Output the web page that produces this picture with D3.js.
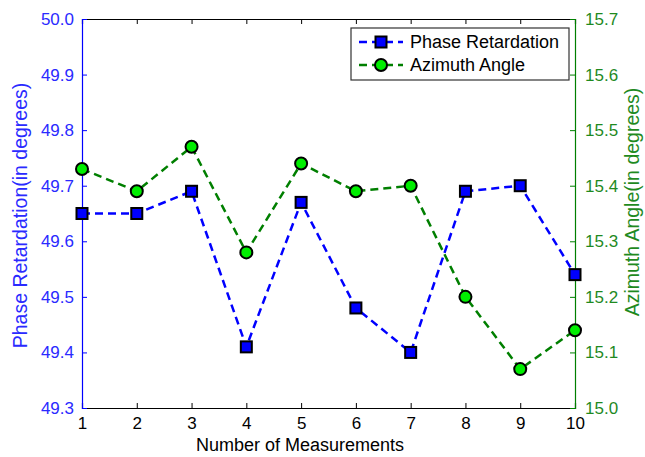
<!DOCTYPE html>
<html>
<head>
<meta charset="utf-8">
<script src="https://cdn.jsdelivr.net/npm/d3@7"></script>
<style>
  body { margin: 0; background: #fff; }
  text { font-family: "Liberation Sans", Arial, sans-serif; }
</style>
</head>
<body>
<div id="chart"></div>
<script>
const measurements = [1, 2, 3, 4, 5, 6, 7, 8, 9, 10]
const phaseRetardation = [49.65, 49.65, 49.69, 49.41, 49.67, 49.48, 49.40, 49.69, 49.70, 49.54]
const azimuthAngle = [15.43, 15.39, 15.47, 15.28, 15.44, 15.39, 15.40, 15.20, 15.07, 15.14]
const leftTicks = [49.3, 49.4, 49.5, 49.6, 49.7, 49.8, 49.9, 50.0]
const rightTicks = [15.0, 15.1, 15.2, 15.3, 15.4, 15.5, 15.6, 15.7]

const width = 645, height = 457
const margin = { top: 19, right: 70, bottom: 49, left: 82 }
const innerW = width - margin.left - margin.right
const innerH = height - margin.top - margin.bottom

const blue = '#0000ff', green = '#007f00'
const blueText = '#2a2aff', greenText = '#1f8a1f'

const svg = d3.select('#chart')
  .append('svg')
  .attr('width', width)
  .attr('height', height)

const g = svg.append('g')
  .attr('transform', 'translate(' + margin.left + ',' + margin.top + ')')

const x = d3.scaleLinear().domain([1, 10]).range([0, innerW])
const yLeft = d3.scaleLinear().domain([49.3, 50.0]).range([innerH, 0])
const yRight = d3.scaleLinear().domain([15.0, 15.7]).range([innerH, 0])

// top axis (box edge), no labels
g.append('g')
  .call(d3.axisTop(x).tickValues(measurements).tickSize(-5).tickFormat(''))
  .call(a => a.selectAll('path, line').attr('stroke', '#000'))

// bottom axis
g.append('g')
  .attr('transform', 'translate(0,' + innerH + ')')
  .call(d3.axisBottom(x).tickValues(measurements).tickSize(-5).tickPadding(9).tickFormat(d3.format('d')))
  .call(a => a.selectAll('path, line').attr('stroke', '#000'))
  .call(a => a.selectAll('text').attr('fill', '#000').style('font-size', '17px'))

// left axis
g.append('g')
  .call(d3.axisLeft(yLeft).tickValues(leftTicks).tickSize(-5).tickPadding(8).tickFormat(d3.format('.1f')))
  .call(a => a.selectAll('path, line').attr('stroke', blue))
  .call(a => a.selectAll('text').attr('fill', blueText).style('font-size', '17px'))

// right axis
g.append('g')
  .attr('transform', 'translate(' + innerW + ',0)')
  .call(d3.axisRight(yRight).tickValues(rightTicks).tickSize(-5).tickPadding(10).tickFormat(d3.format('.1f')))
  .call(a => a.selectAll('path, line').attr('stroke', green))
  .call(a => a.selectAll('text').attr('fill', greenText).style('font-size', '17px'))

g.selectAll('.domain').attr('stroke-width', 1.2)

// axis titles
svg.append('text')
  .attr('x', 300)
  .attr('y', 451)
  .attr('text-anchor', 'middle')
  .style('font-size', '18px')
  .attr('fill', '#000')
  .text('Number of Measurements')

svg.append('text')
  .attr('transform', 'translate(27,' + (margin.top + innerH / 2 + 2) + ') rotate(-90)')
  .attr('text-anchor', 'middle')
  .style('font-size', '19.5px')
  .attr('fill', blueText)
  .text('Phase Retardation(in degrees)')

svg.append('text')
  .attr('transform', 'translate(639,202) rotate(-90)')
  .attr('text-anchor', 'middle')
  .style('font-size', '19.5px')
  .attr('fill', greenText)
  .text('Azimuth Angle(in degrees)')

// lines
const phaseLine = d3.line()
  .x((d, i) => x(measurements[i]))
  .y(d => yLeft(d))
const azLine = d3.line()
  .x((d, i) => x(measurements[i]))
  .y(d => yRight(d))

g.append('path')
  .datum(azimuthAngle)
  .attr('d', azLine)
  .attr('fill', 'none')
  .attr('stroke', green)
  .attr('stroke-width', 2.5)
  .attr('stroke-dasharray', '8,5')

g.append('path')
  .datum(phaseRetardation)
  .attr('d', phaseLine)
  .attr('fill', 'none')
  .attr('stroke', blue)
  .attr('stroke-width', 2.5)
  .attr('stroke-dasharray', '8,5')

// markers
const sq = 11
g.selectAll('.sq')
  .data(phaseRetardation)
  .enter()
  .append('rect')
  .attr('class', 'sq')
  .attr('x', (d, i) => x(measurements[i]) - sq / 2)
  .attr('y', d => yLeft(d) - sq / 2)
  .attr('width', sq)
  .attr('height', sq)
  .attr('fill', blue)
  .attr('stroke', '#000')
  .attr('stroke-width', 2)

g.selectAll('.dot')
  .data(azimuthAngle)
  .enter()
  .append('circle')
  .attr('class', 'dot')
  .attr('cx', (d, i) => x(measurements[i]))
  .attr('cy', d => yRight(d))
  .attr('r', 6)
  .attr('fill', '#00ee00')
  .attr('stroke', '#000')
  .attr('stroke-width', 2)

// legend
const legend = svg.append('g').attr('transform', 'translate(351,28)')
legend.append('rect')
  .attr('width', 218)
  .attr('height', 52)
  .attr('fill', '#fff')
  .attr('stroke', '#333')
  .attr('stroke-width', 1.2)

const items = [
  { label: 'Phase Retardation', color: blue, shape: 'square' },
  { label: 'Azimuth Angle', color: green, shape: 'circle' }
]
items.forEach((item, i) => {
  const row = legend.append('g').attr('transform', 'translate(0,' + (14 + i * 23) + ')')
  row.append('line')
    .attr('x1', 8).attr('x2', 52).attr('y1', 0).attr('y2', 0)
    .attr('stroke', item.color)
    .attr('stroke-width', 2.5)
    .attr('stroke-dasharray', '8,5')
  if (item.shape === 'square') {
    row.append('rect')
      .attr('x', 30 - sq / 2).attr('y', -sq / 2)
      .attr('width', sq).attr('height', sq)
      .attr('fill', blue).attr('stroke', '#000').attr('stroke-width', 2)
  } else {
    row.append('circle')
      .attr('cx', 30).attr('cy', 0).attr('r', 6)
      .attr('fill', '#00ee00').attr('stroke', '#000').attr('stroke-width', 2)
  }
  row.append('text')
    .attr('x', 59)
    .attr('y', 6)
    .style('font-size', '18px')
    .attr('fill', '#000')
    .text(item.label)
})
</script>
</body>
</html>
